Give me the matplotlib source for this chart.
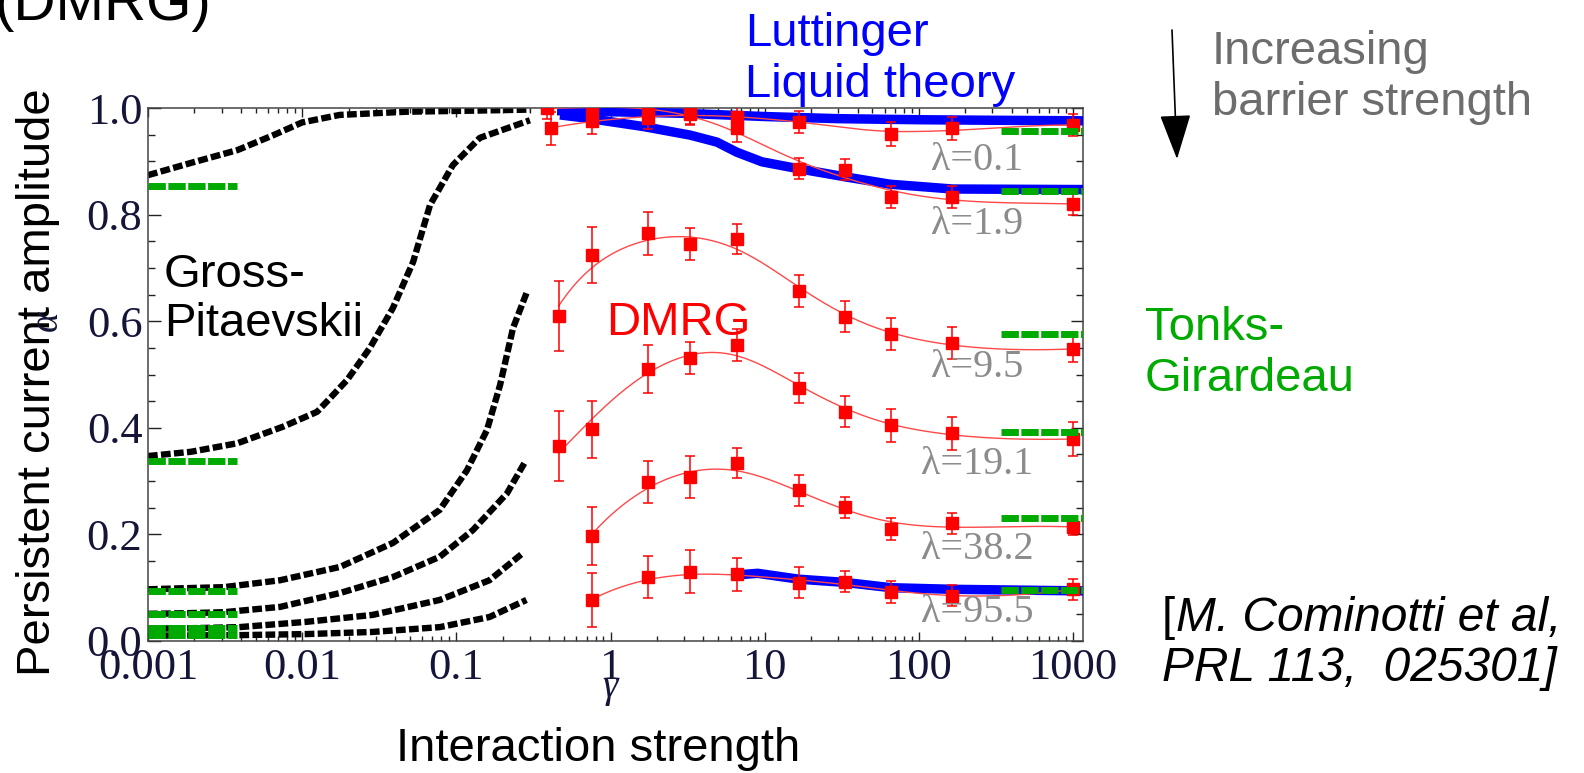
import numpy as np
import matplotlib
matplotlib.use('Agg')
import matplotlib.pyplot as plt
from matplotlib.ticker import LogLocator, MultipleLocator, NullFormatter

plt.rcParams['lines.scale_dashes'] = False
plt.rcParams['font.family'] = ['Liberation Sans', 'DejaVu Sans']

W, H = 1584, 773

# DMRG results (gamma, alpha, error) for each barrier strength
g_l01 = [0.41, 0.76, 1.75, 3.3, 6.6, 16.6, 66, 165, 1000]
a_l01 = [0.962, 0.976, 0.982, 0.988, 0.983, 0.974, 0.951, 0.962, 0.968]
e_l01 = [0.031, 0.025, 0.022, 0.02, 0.02, 0.02, 0.022, 0.022, 0.02]

g_l19 = [0.39, 0.76, 1.75, 3.3, 6.6, 16.6, 33, 66, 165, 1000]
a_l19 = [1.0, 0.998, 0.995, 0.99, 0.962, 0.886, 0.884, 0.833, 0.833, 0.820]
e_l19 = [0.02, 0.02, 0.02, 0.02, 0.026, 0.02, 0.02, 0.02, 0.02, 0.02]

g_l95 = [0.46, 0.76, 1.75, 3.3, 6.6, 16.6, 33, 66, 165, 1000]
a_l95 = [0.610, 0.724, 0.765, 0.745, 0.754, 0.657, 0.608, 0.576, 0.559, 0.548]
e_l95 = [0.065, 0.052, 0.04, 0.03, 0.028, 0.03, 0.029, 0.03, 0.03, 0.025]

g_l191 = [0.46, 0.76, 1.75, 3.3, 6.6, 16.6, 33, 66, 165, 1000]
a_l191 = [0.366, 0.397, 0.510, 0.531, 0.555, 0.475, 0.430, 0.405, 0.390, 0.379]
e_l191 = [0.065, 0.053, 0.045, 0.03, 0.03, 0.028, 0.029, 0.031, 0.031, 0.031]

g_l382 = [0.76, 1.75, 3.3, 6.6, 16.6, 33, 66, 165, 1000]
a_l382 = [0.197, 0.298, 0.308, 0.334, 0.283, 0.251, 0.210, 0.221, 0.214]
e_l382 = [0.055, 0.04, 0.04, 0.029, 0.029, 0.02, 0.021, 0.02, 0.016]

g_l955 = [0.76, 1.75, 3.3, 6.6, 16.6, 33, 66, 165, 1000]
a_l955 = [0.077, 0.120, 0.130, 0.125, 0.109, 0.111, 0.092, 0.085, 0.097]
e_l955 = [0.05, 0.04, 0.04, 0.031, 0.029, 0.02, 0.02, 0.02, 0.02]

lambdas = ['0.1', '1.9', '9.5', '19.1', '38.2', '95.5']
lam_label_y = [0.884, 0.764, 0.495, 0.313, 0.154, 0.036]

# Gross-Pitaevskii curves (weak interactions)
gp_x1 = [0.001, 0.0019, 0.0038, 0.0065, 0.01, 0.0175, 0.0475, 0.127, 0.30]
gp_y1 = [0.874, 0.897, 0.921, 0.949, 0.973, 0.987, 0.993, 0.995, 0.997]
gp_x2 = [0.001, 0.0019, 0.0038, 0.0075, 0.0125, 0.0151, 0.0196, 0.0275, 0.0388,
         0.0524, 0.0675, 0.095, 0.142, 0.30]
gp_y2 = [0.347, 0.355, 0.371, 0.402, 0.43, 0.455, 0.49, 0.55, 0.625,
         0.711, 0.818, 0.893, 0.944, 0.977]
gp_x3 = [0.001, 0.0017, 0.0031, 0.0072, 0.0176, 0.0388, 0.078, 0.117, 0.158,
         0.192, 0.233, 0.287]
gp_y3 = [0.097, 0.099, 0.101, 0.114, 0.139, 0.184, 0.246, 0.32, 0.396,
         0.48, 0.587, 0.655]
gp_x4 = [0.001, 0.0017, 0.0031, 0.0072, 0.0176, 0.0388, 0.078, 0.128, 0.213, 0.279]
gp_y4 = [0.051, 0.052, 0.054, 0.064, 0.09, 0.12, 0.158, 0.208, 0.277, 0.336]
gp_x5 = [0.001, 0.0019, 0.0039, 0.0107, 0.0287, 0.078, 0.164, 0.27]
gp_y5 = [0.023, 0.024, 0.026, 0.036, 0.049, 0.077, 0.114, 0.165]
gp_x6 = [0.001, 0.0039, 0.0107, 0.0287, 0.078, 0.164, 0.285]
gp_y6 = [0.010, 0.011, 0.013, 0.017, 0.026, 0.045, 0.077]

# Luttinger liquid theory
ll_x1 = [0.45, 1, 3, 10, 30, 100, 300, 1160]
ll_y1 = [0.995, 0.993, 0.99, 0.984, 0.98, 0.978, 0.977, 0.976]
ll_x2 = [0.47, 0.7, 1.65, 3.3, 4.9, 6.6, 9.6, 16.6, 33, 65, 165, 1160]
ll_y2 = [0.987, 0.981, 0.965, 0.949, 0.936, 0.917, 0.899, 0.886, 0.871, 0.857, 0.848, 0.847]
ll_x3 = [6.6, 9, 16.6, 33, 66, 165, 1160]
ll_y3 = [0.124, 0.127, 0.116, 0.11, 0.10, 0.097, 0.094]

# Tonks-Girardeau limit (right) and GP limit (left)
tg_levels = [0.957, 0.844, 0.576, 0.392, 0.231, 0.096]
gp_levels = [0.854, 0.338, 0.094, 0.051, 0.024, 0.012]

xmin, xmax = 0.001, 1160


def smooth_fit(gx, ay, ey, bw=0.45):
    # local quadratic regression in log(gamma), weighted by the error bars
    lx = np.log10(gx)
    ay = np.asarray(ay)
    ey = np.asarray(ey)
    xs = np.linspace(lx[0], lx[-1], 300)
    ys = []
    for x0 in xs:
        w = np.sqrt(np.exp(-0.5 * ((lx - x0) / bw) ** 2)) / ey
        c = np.polyfit(lx - x0, ay, 2, w=w)
        ys.append(c[-1])
    return 10 ** xs, np.array(ys)


fig = plt.figure(figsize=(W / 100, H / 100), dpi=100)
ax = fig.add_axes([148 / W, 1 - 641 / H, (1083 - 148) / W, (641 - 108) / H])
ax.set_xscale('log')
ax.set_xlim(xmin, xmax)
ax.set_ylim(0, 1)

# GP curves
for gx, gy in [(gp_x1, gp_y1), (gp_x2, gp_y2), (gp_x3, gp_y3),
               (gp_x4, gp_y4), (gp_x5, gp_y5), (gp_x6, gp_y6)]:
    ax.plot(gx, gy, color='black', lw=4.6, dashes=(7, 2.4),
            dash_capstyle='butt', zorder=2)

# Luttinger liquid
for lx, ly in [(ll_x1, ll_y1), (ll_x2, ll_y2), (ll_x3, ll_y3)]:
    ax.plot(lx, ly, color='#0000ff', lw=6.8, solid_capstyle='butt', zorder=3)

# DMRG points with smooth fits
series = [(g_l01, a_l01, e_l01), (g_l19, a_l19, e_l19), (g_l95, a_l95, e_l95),
          (g_l191, a_l191, e_l191), (g_l382, a_l382, e_l382), (g_l955, a_l955, e_l955)]
for gx, ay, ey in series:
    fx_, fy_ = smooth_fit(gx, ay, ey)
    ax.plot(fx_, fy_, color='#ff4848', lw=1.0, zorder=4)
    ax.errorbar(gx, ay, yerr=ey, fmt='s', color='#ff0000', ms=8, elinewidth=1.1,
                capsize=3.5, capthick=1.1, zorder=5)

for lev in tg_levels:
    ax.plot([340, xmax], [lev, lev], color='#00aa00', lw=5, dashes=(12.5, 1.8),
            dash_capstyle='butt', zorder=6)
for lev in gp_levels:
    ax.plot([xmin, 0.0038], [lev, lev], color='#00aa00', lw=5, dashes=(12.5, 1.8),
            dash_capstyle='butt', zorder=6)

for lam, ly in zip(lambdas, lam_label_y):
    ax.text(238, ly, '\u03bb=' + lam, ha='center', va='baseline', fontsize=29,
            family='Liberation Serif', color='#8c8c8c', zorder=7)

# axes styling
ax.set_xticks([0.001, 0.01, 0.1, 1, 10, 100, 1000])
ax.set_xticklabels(['0.001', '0.01', '0.1', '1', '10', '100', '1000'])
ax.xaxis.set_minor_locator(LogLocator(base=10, subs=np.arange(2, 10)))
ax.xaxis.set_minor_formatter(NullFormatter())
ax.set_yticks([0, 0.2, 0.4, 0.6, 0.8, 1.0])
ax.set_yticklabels(['0.0', '0.2', '0.4', '0.6', '0.8', '1.0'])
ax.yaxis.set_minor_locator(MultipleLocator(0.05))
for lab in ax.get_xticklabels() + ax.get_yticklabels():
    lab.set_family('Liberation Serif')
    lab.set_fontsize(32)
    lab.set_color('#15153a')
ax.tick_params(which='both', direction='in', top=True, right=True, color='#222222')
ax.tick_params(axis='y', which='major', length=9, width=1.0, pad=4)
ax.tick_params(axis='y', which='minor', length=5, width=1.0)
ax.tick_params(axis='x', which='major', length=6.5, width=1.0, pad=5)
ax.tick_params(axis='x', which='minor', length=3.6, width=1.0)
for sp in ax.spines.values():
    sp.set_color('#444444')
    sp.set_linewidth(1.1)


# annotations
def fx(px):
    return px / W


def fy(py):
    return 1 - py / H


fs = 34
fig.text(fx(-6), fy(20), '(DMRG)', fontsize=42, ha='left', va='baseline')
fig.text(fx(745), fy(12), 'Luttinger\nLiquid theory', fontsize=fs, color='#0000ff',
         ha='left', va='top', linespacing=1.2)
fig.text(fx(1212), fy(30), 'Increasing\nbarrier strength', fontsize=fs, color='#6d6d6d',
         ha='left', va='top', linespacing=1.2)
fig.text(fx(1145), fy(306), 'Tonks-\nGirardeau', fontsize=fs, color='#00aa00',
         ha='left', va='top', linespacing=1.2)
fig.text(fx(164), fy(253), 'Gross-\nPitaevskii', fontsize=fs, color='black',
         ha='left', va='top', linespacing=1.15)
fig.text(fx(606), fy(301), 'DMRG', fontsize=fs, color='#ff0000', ha='left', va='top')
fig.text(fx(1162), fy(596), '[', fontsize=fs, ha='left', va='top')
fig.text(fx(1176), fy(596), 'M. Cominotti et al,', fontsize=34.5, style='italic',
         ha='left', va='top')
fig.text(fx(1162), fy(646), 'PRL 113,  025301]', fontsize=34.5, style='italic',
         ha='left', va='top')
fig.text(fx(38), fy(382), 'Persistent current amplitude', fontsize=fs, rotation=90,
         ha='center', va='center')
fig.text(fx(598), fy(727), 'Interaction strength', fontsize=fs, ha='center', va='top')
fig.text(fx(47), fy(321), '\u03b1', fontsize=28, family='Liberation Serif',
         style='italic', color='#15153a', rotation=90, ha='center', va='center')
fig.text(fx(610), fy(688), '\u03b3', fontsize=28, family='Liberation Serif',
         style='italic', color='#15153a', ha='center', va='center')

ax.annotate('', xy=(fx(1177), fy(159)), xytext=(fx(1172), fy(30)),
            xycoords='figure fraction', textcoords='figure fraction',
            arrowprops=dict(arrowstyle='-|>,head_length=1.3,head_width=0.45',
                            color='black', lw=1.2, mutation_scale=22,
                            shrinkA=0, shrinkB=0))

fig.savefig('out.png', dpi=100)
